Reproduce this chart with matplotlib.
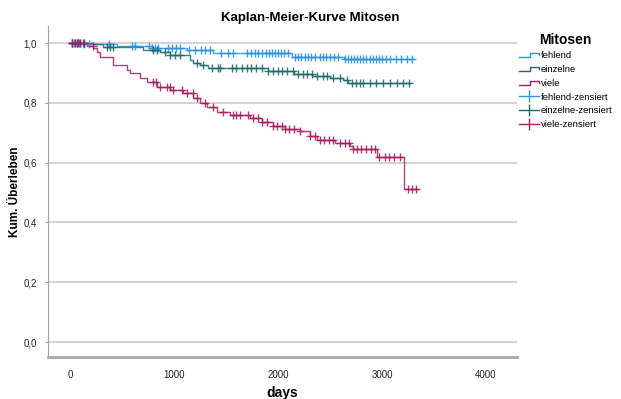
import numpy as np
import matplotlib
matplotlib.use("Agg")
import matplotlib.pyplot as plt
from matplotlib.lines import Line2D
from matplotlib.legend_handler import HandlerBase

plt.rcParams['font.family'] = ['Liberation Sans', 'DejaVu Sans']

# Schritte der Kaplan-Meier-Kurven (Zeitpunkt, kumulatives Überleben)
fehlend_t = [0, 120, 450, 790, 1120, 1370, 2130, 2630, 3300]
fehlend_s = [1.0, 0.997, 0.99, 0.983, 0.977, 0.967, 0.953, 0.946, 0.946]

einzelne_t = [0, 220, 317, 700, 865, 960, 1150, 1185, 1250, 1330, 1900, 2150, 2330, 2500, 2625, 2670, 3270]
einzelne_s = [1.0, 0.997, 0.987, 0.977, 0.97, 0.96, 0.943, 0.933, 0.926, 0.916, 0.906, 0.898,
              0.89, 0.883, 0.875, 0.866, 0.866]

viele_t = [0, 163, 221, 260, 290, 413, 548, 577, 673, 740, 837, 962, 1087, 1183, 1250, 1317,
           1413, 1540, 1730, 1850, 1950, 2070, 2210, 2310, 2375, 2550, 2690, 2720, 2950, 3210, 3350]
viele_s = [1.0, 0.99, 0.983, 0.97, 0.953, 0.926, 0.91, 0.90, 0.883, 0.87, 0.853, 0.843, 0.833,
           0.816, 0.80, 0.786, 0.77, 0.76, 0.75, 0.735, 0.722, 0.712, 0.706, 0.69, 0.676, 0.666,
           0.655, 0.645, 0.62, 0.512, 0.512]

# zensierte Fälle
fehlend_cens = [15, 40, 65, 90, 130, 180, 370, 600, 625, 760, 790, 820, 850, 940, 980, 1020,
                1060, 1140, 1200, 1260, 1300, 1350, 1450, 1520, 1570, 1700, 1740, 1780, 1810,
                1850, 1880, 1910, 1940, 1970, 2000, 2030, 2060, 2100, 2160, 2190, 2220, 2260,
                2290, 2320, 2360, 2400, 2430, 2460, 2500, 2540, 2580, 2640, 2670, 2700, 2730,
                2760, 2790, 2820, 2850, 2880, 2910, 2940, 2970, 3000, 3040, 3080, 3130, 3180,
                3240, 3290]
einzelne_cens = [20, 50, 80, 100, 125, 355, 385, 415, 800, 835, 910, 960, 1010, 1060, 1220, 1280,
                 1365, 1420, 1440, 1555, 1600, 1650, 1700, 1740, 1790, 1845, 1905, 1950, 2000,
                 2040, 2085, 2145, 2190, 2240, 2280, 2325, 2375, 2435, 2470, 2530, 2600, 2660,
                 2710, 2750, 2790, 2820, 2880, 2945, 3010, 3075, 3140, 3200, 3260]
viele_cens = [20, 45, 70, 100, 130, 220, 800, 830, 865, 930, 960, 990, 1075, 1125, 1180, 1220,
              1300, 1375, 1470, 1570, 1600, 1635, 1710, 1760, 1810, 1850, 1895, 1950, 1990,
              2040, 2070, 2110, 2150, 2210, 2310, 2355, 2400, 2440, 2490, 2530, 2600, 2640,
              2680, 2720, 2760, 2800, 2850, 2890, 2930, 2970, 3030, 3070, 3120, 3170, 3250,
              3290, 3330]

groups = ['fehlend', 'einzelne', 'viele']
colors = ['#2a93e2', '#1b6b6b', '#a61d5d']
yticks = [0.0, 0.2, 0.4, 0.6, 0.8, 1.0]
ytick_labels = ['0,0', '0,2', '0,4', '0,6', '0,8', '1,0']
xticks = [0, 1000, 2000, 3000, 4000]


def surv_at(times, surv, t):
    idx = np.searchsorted(times, t, side='right') - 1
    return np.asarray(surv)[idx]


class StepHandler(HandlerBase):
    def create_artists(self, legend, orig_handle, xdescent, ydescent, width, height, fontsize, trans):
        x0, y0 = -xdescent, -ydescent
        xs = [x0, x0 + width * 0.55, x0 + width * 0.55, x0 + width, x0 + width]
        ys = [y0 + height * 0.15, y0 + height * 0.15, y0 + height * 0.8, y0 + height * 0.8,
              y0 + height * 0.45]
        ln = Line2D(xs, ys, color=orig_handle.get_color(), lw=1)
        ln.set_transform(trans)
        return [ln]


fig = plt.figure(figsize=(6.21, 3.99), dpi=100)
ax = fig.add_axes([48 / 621, 42 / 399, (517 - 48) / 621, (357 - 26) / 399])

data = [(fehlend_t, fehlend_s, fehlend_cens), (einzelne_t, einzelne_s, einzelne_cens),
        (viele_t, viele_s, viele_cens)]
for (t, s, c), col in zip(data, colors):
    ax.step(t, s, where='post', color=col, lw=1, alpha=0.85, zorder=3)
    ax.plot(c, surv_at(t, s, c), linestyle='none', marker='+', markersize=6,
            markeredgewidth=1, color=col, alpha=0.9, zorder=4)

ax.set_xlim(-212, 4298)
ax.set_ylim(-0.05, 1.057)
ax.set_xticks(xticks)
ax.set_yticks(yticks)
ax.set_yticklabels(ytick_labels)
ax.grid(axis='y', color='#d4d4d4', lw=1.5, zorder=0)
ax.set_axisbelow(True)
for sp in ['top', 'right']:
    ax.spines[sp].set_visible(False)
ax.spines['left'].set_color('#a0a0a0')
ax.spines['bottom'].set_color('#a8a8a8')
ax.spines['bottom'].set_linewidth(2)
ax.tick_params(axis='y', length=2, color='#a0a0a0', pad=6, labelsize=7, labelcolor='#222222')
ax.tick_params(axis='x', length=0, pad=9, labelsize=7, labelcolor='#222222')

ax.set_xlabel('days', fontsize=10, fontweight='bold', labelpad=5)
ax.set_ylabel('Kum. Überleben', fontsize=8.5, fontweight='bold', labelpad=2)
fig.text(0.5, 1 - 18 / 399, 'Kaplan-Meier-Kurve Mitosen', ha='center', va='center',
         fontsize=9.5, fontweight='bold')

handles = [Line2D([], [], color=c) for c in colors]
cens_handles = [Line2D([0], [0], color=c, marker='|', markersize=8, lw=1) for c in colors]
labels = groups + [g + '-zensiert' for g in groups]
handler_map = {h: StepHandler() for h in handles}
leg = fig.legend(handles + cens_handles, labels, loc='upper left',
                 bbox_to_anchor=(513 / 621, 1 - 27 / 399), frameon=False, fontsize=6.8,
                 handlelength=2.1, handletextpad=0.25, labelspacing=0.5, numpoints=1,
                 borderpad=0.6, borderaxespad=0,
                 title='Mitosen', title_fontproperties={'weight': 'bold', 'size': 10},
                 handler_map=handler_map)

fig.savefig('out.png', dpi=100)
